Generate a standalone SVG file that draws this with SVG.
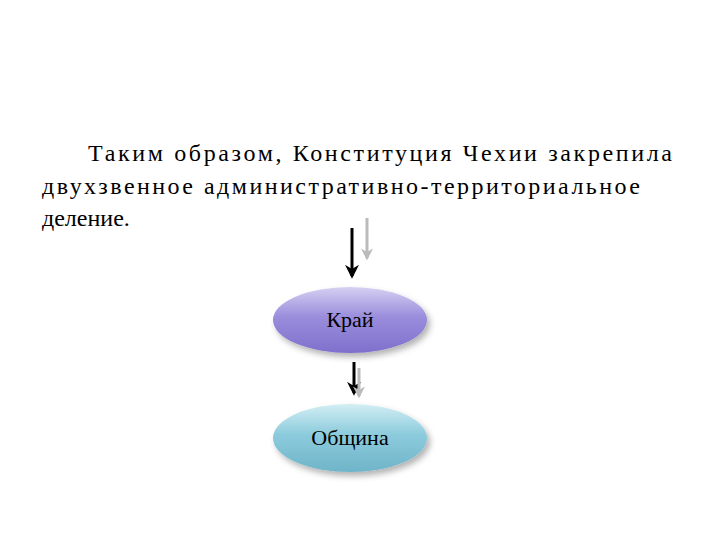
<svg xmlns="http://www.w3.org/2000/svg" width="720" height="540" viewBox="0 0 720 540">
<defs>
<linearGradient id="g1" x1="0" y1="0" x2="0" y2="1"><stop offset="0" stop-color="#d6d0f2"/><stop offset="0.45" stop-color="#9a8ddc"/><stop offset="1" stop-color="#7f70cc"/></linearGradient>
<linearGradient id="g2" x1="0" y1="0" x2="0" y2="1"><stop offset="0" stop-color="#d2eef4"/><stop offset="0.45" stop-color="#8ccbdc"/><stop offset="1" stop-color="#6fb4c9"/></linearGradient>
<marker id="ab" markerWidth="14" markerHeight="14" refX="8" refY="5" orient="auto" viewBox="0 0 10 10" markerUnits="userSpaceOnUse"><path d="M0,0 L10,5 L0,10 L3,5 Z" fill="#000"/></marker>
<marker id="ag" markerWidth="12" markerHeight="12" refX="8" refY="5" orient="auto" viewBox="0 0 10 10" markerUnits="userSpaceOnUse"><path d="M0,0 L10,5 L0,10 L3,5 Z" fill="#bbb"/></marker>
<filter id="sh" x="-20%" y="-20%" width="150%" height="160%"><feDropShadow dx="3" dy="4" stdDeviation="3" flood-color="#000" flood-opacity="0.3"/></filter>
</defs>
<style>
text{font-family:"Liberation Serif","DejaVu Serif",serif;fill:#000}
.t{font-size:24px}
.n{font-size:22px;text-anchor:middle}
.bk{stroke:#000;stroke-width:3}
.gr{stroke:#bbb;stroke-width:3}
</style>
<rect width="720" height="540" fill="#fff"/>
<text class="t" x="88" y="161" textLength="584" lengthAdjust="spacing">Таким образом, Конституция Чехии закрепила</text>
<text class="t" x="42" y="194" textLength="598" lengthAdjust="spacing">двухзвенное  административно-территориальное</text>
<text class="t" x="42" y="226">деление.</text>
<g id="connectors">
<line class="bk" x1="352" y1="228" x2="352" y2="276" marker-end="url(#ab)"/>
<line class="gr" x1="367" y1="218" x2="367" y2="258" marker-end="url(#ag)"/>
<line class="bk" x1="354" y1="362" x2="354" y2="393" marker-end="url(#ab)"/>
<line class="gr" x1="359" y1="368" x2="359" y2="396" marker-end="url(#ag)"/>
</g>
<g id="kraj"><ellipse cx="350" cy="320" rx="77" ry="33" fill="url(#g1)" filter="url(#sh)"/><text class="n" x="350" y="327">Край</text></g>
<g id="obshchina"><ellipse cx="350" cy="438" rx="77" ry="34" fill="url(#g2)" filter="url(#sh)"/><text class="n" x="350" y="445">Община</text></g>
</svg>
